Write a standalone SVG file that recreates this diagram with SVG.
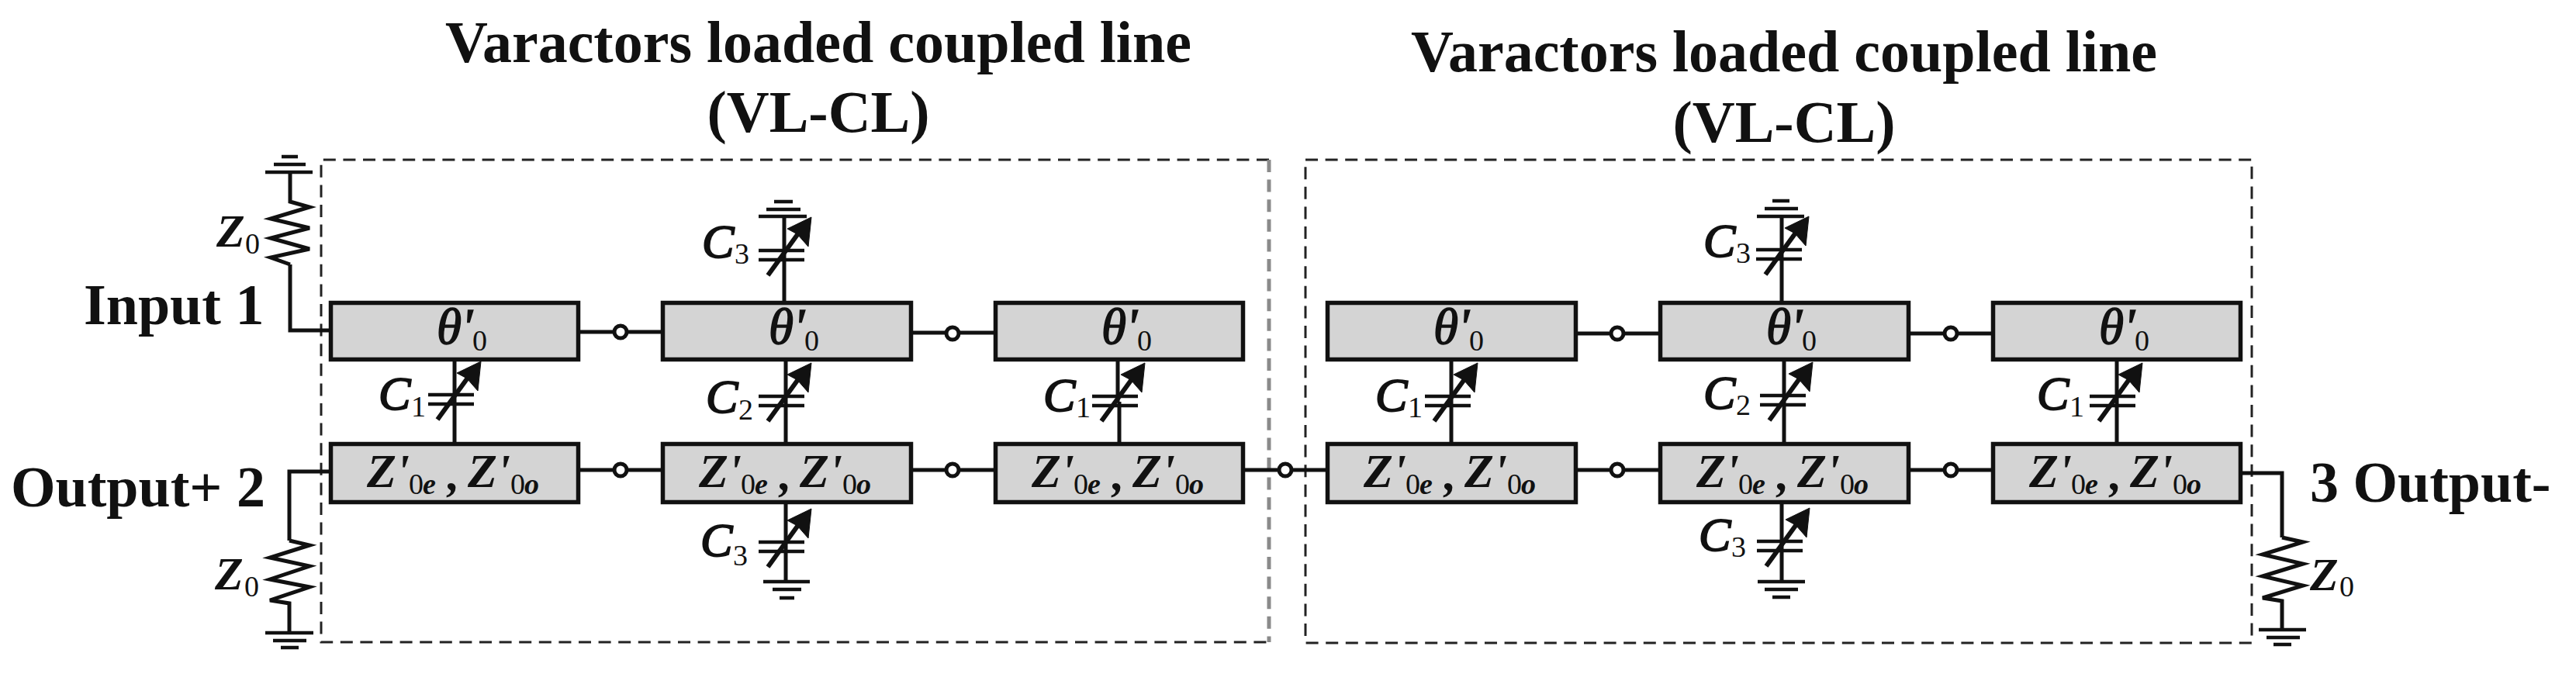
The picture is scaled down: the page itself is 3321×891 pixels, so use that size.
<svg xmlns="http://www.w3.org/2000/svg" xmlns:xlink="http://www.w3.org/1999/xlink" width="3321" height="891" viewBox="0 0 3321 891">
<style>
text{font-family:"Liberation Serif","Times New Roman",serif;fill:#111}
.t{font-size:76px;font-weight:700;text-anchor:middle}
.p{font-size:74px;font-weight:700}
.c{font-size:62px;font-style:italic;font-weight:400;stroke:#111;stroke-width:2}
.cz{font-size:60px;font-style:italic;font-weight:700}
.z{font-size:62px;font-style:italic;font-weight:700}
.th{font-size:66px;font-style:italic;font-weight:400;stroke:#111;stroke-width:1.500}
.n{font-size:38px}
.e{font-size:38px;font-style:italic;font-weight:700}
.w{fill:none;stroke:#111;stroke-width:5}
.b{fill:#d4d4d4;stroke:#111;stroke-width:5.500}
.g{stroke:#111;stroke-width:4.500;fill:none}
.a{stroke:#111;stroke-width:6;fill:none}
.d{fill:none;stroke:#222;stroke-width:3;stroke-dasharray:16 9.600}
.dg{fill:none;stroke:#8a8a8a;stroke-width:5;stroke-dasharray:16 9.600}
.j{fill:#fff;stroke:#111;stroke-width:5}
</style>
<defs>
<g id="var"><path class="g" d="M-34 0H25M-34 12H25"/><path class="a" d="M-22 32L20 -26"/><path fill="#111" stroke="#111" stroke-width="1" d="M34 -43L3 -28L16 -21L30 -5Z"/></g>
</defs>
<rect width="3321" height="891" fill="#fff"/>
<g id="frames">
<path class="d" d="M1636 206H414V828H1636"/>
<path class="dg" d="M1636 206V828"/>
<rect class="d" x="1683" y="206" width="1220" height="623"/>
</g>
<g id="titles">
<text class="t" x="1055" y="80">Varactors loaded coupled line</text>
<text class="t" x="1055" y="170">(VL-CL)</text>
<text class="t" x="2300" y="92">Varactors loaded coupled line</text>
<text class="t" x="2300" y="183">(VL-CL)</text>
</g>
<g id="connectors">
<path class="w" d="M424 426H374V341M424 608H373V697M2890 610H2942V693"/>
<path class="w" d="M748 428H852M1176 429H1281M2033 430H2138M2462 430H2567M748 606H852M1176 606H1281M1604 606H1709M2033 606H2138M2462 606H2567"/>
<path class="w" d="M586 466V571M1011 279V388M1013 465V570M1013 650V750M1441 466V518M1443 518V571M1871 466V571M2297 279V388M2300 465V570M2297 650V750M2729 466V571"/>
<g class="j"><circle cx="800" cy="428" r="8"/><circle cx="1228" cy="430" r="8"/><circle cx="2085" cy="430" r="8"/><circle cx="2515" cy="430" r="8"/><circle cx="800" cy="606" r="8"/><circle cx="1228" cy="606" r="8"/><circle cx="1657" cy="606" r="8"/><circle cx="2085" cy="606" r="8"/><circle cx="2515" cy="606" r="8"/></g>
</g>
<g id="port1"><text class="p" x="108" y="418">Input 1</text></g>
<g id="port2"><text class="p" x="14" y="653">Output+ 2</text></g>
<g id="port3"><text class="p" x="2978" y="647">3 Output-</text></g>
<g id="r1"><path class="w" d="M374 222V260L399 267L349 282L399 294L349 307L399 321L349 332L374 341"/><path class="g" d="M342 222H403M353 212H394M363 202H384"/><text class="cz" x="279" y="318">Z</text><text class="n" x="316" y="327">0</text></g>
<g id="r2"><path class="w" d="M373 816V778L348 774L399 757L348 747L399 730L348 719L399 703L373 697"/><path class="g" d="M342 816H404M352 826H395M362 835H385"/><text class="cz" x="277" y="760">Z</text><text class="n" x="315" y="769">0</text></g>
<g id="r3"><path class="w" d="M2942 812V775L2917 771L2969 755L2917 743L2969 727L2917 715L2969 699L2942 693"/><path class="g" d="M2912 812H2973M2922 822H2965M2931 831H2954"/><text class="cz" x="2978" y="761">Z</text><text class="n" x="3016" y="769">0</text></g>
<g id="theta1"><rect class="b" x="426.500" y="390.500" width="319" height="73"/><text class="th" x="563" y="443" textLength="46" lengthAdjust="spacingAndGlyphs">θ'</text><text class="n" x="609" y="452">0</text></g>
<g id="theta2"><rect class="b" x="854.500" y="390.500" width="320" height="73"/><text class="th" x="991" y="443" textLength="46" lengthAdjust="spacingAndGlyphs">θ'</text><text class="n" x="1037" y="452">0</text></g>
<g id="theta3"><rect class="b" x="1283.500" y="390.500" width="319" height="73"/><text class="th" x="1420" y="443" textLength="46" lengthAdjust="spacingAndGlyphs">θ'</text><text class="n" x="1466" y="452">0</text></g>
<g id="theta4"><rect class="b" x="1711.500" y="390.500" width="320" height="73"/><text class="th" x="1848" y="443" textLength="46" lengthAdjust="spacingAndGlyphs">θ'</text><text class="n" x="1894" y="452">0</text></g>
<g id="theta5"><rect class="b" x="2140.500" y="390.500" width="320" height="73"/><text class="th" x="2277" y="443" textLength="46" lengthAdjust="spacingAndGlyphs">θ'</text><text class="n" x="2323" y="452">0</text></g>
<g id="theta6"><rect class="b" x="2569.500" y="390.500" width="319" height="73"/><text class="th" x="2706" y="443" textLength="46" lengthAdjust="spacingAndGlyphs">θ'</text><text class="n" x="2752" y="452">0</text></g>
<g id="line1"><rect class="b" x="426.500" y="572.500" width="319" height="75"/><text class="z" x="473" y="628">Z'</text><text class="n" x="527" y="637">0</text><text class="e" x="545" y="637">e</text><text class="z" x="577" y="632">,</text><text class="z" x="603" y="628">Z'</text><text class="n" x="658" y="637">0</text><text class="e" x="676" y="637">o</text></g>
<g id="line2"><rect class="b" x="854.500" y="572.500" width="320" height="75"/><text class="z" x="901" y="628">Z'</text><text class="n" x="955" y="637">0</text><text class="e" x="973" y="637">e</text><text class="z" x="1005" y="632">,</text><text class="z" x="1031" y="628">Z'</text><text class="n" x="1086" y="637">0</text><text class="e" x="1104" y="637">o</text></g>
<g id="line3"><rect class="b" x="1283.500" y="572.500" width="319" height="75"/><text class="z" x="1330" y="628">Z'</text><text class="n" x="1384" y="637">0</text><text class="e" x="1402" y="637">e</text><text class="z" x="1434" y="632">,</text><text class="z" x="1460" y="628">Z'</text><text class="n" x="1515" y="637">0</text><text class="e" x="1533" y="637">o</text></g>
<g id="line4"><rect class="b" x="1711.500" y="572.500" width="320" height="75"/><text class="z" x="1758" y="628">Z'</text><text class="n" x="1812" y="637">0</text><text class="e" x="1830" y="637">e</text><text class="z" x="1862" y="632">,</text><text class="z" x="1888" y="628">Z'</text><text class="n" x="1943" y="637">0</text><text class="e" x="1961" y="637">o</text></g>
<g id="line5"><rect class="b" x="2140.500" y="572.500" width="320" height="75"/><text class="z" x="2187" y="628">Z'</text><text class="n" x="2241" y="637">0</text><text class="e" x="2259" y="637">e</text><text class="z" x="2291" y="632">,</text><text class="z" x="2317" y="628">Z'</text><text class="n" x="2372" y="637">0</text><text class="e" x="2390" y="637">o</text></g>
<g id="line6"><rect class="b" x="2569.500" y="572.500" width="319" height="75"/><text class="z" x="2616" y="628">Z'</text><text class="n" x="2670" y="637">0</text><text class="e" x="2688" y="637">e</text><text class="z" x="2720" y="632">,</text><text class="z" x="2746" y="628">Z'</text><text class="n" x="2801" y="637">0</text><text class="e" x="2819" y="637">o</text></g>
<g id="gnd-top"><path class="g" d="M978 279H1040M988 270H1032M998 260H1022"/><path class="g" d="M2265 279H2326M2275 269H2318M2285 259H2307"/></g>
<g id="gnd-bot"><path class="g" d="M984 750H1044M996 760H1033M1005 771H1024"/><path class="g" d="M2266 750H2327M2275 760H2318M2285 770H2308"/></g>
<g id="c1a"><use xlink:href="#var" href="#var" x="586" y="509"/><text class="c" x="488" y="528">C</text><text class="n" x="530" y="537">1</text></g>
<g id="c3a"><use xlink:href="#var" href="#var" x="1012" y="323"/><text class="c" x="905" y="332">C</text><text class="n" x="947" y="340">3</text></g>
<g id="c2a"><use xlink:href="#var" href="#var" x="1012" y="511"/><text class="c" x="910" y="532">C</text><text class="n" x="952" y="541">2</text></g>
<g id="c3b"><use xlink:href="#var" href="#var" x="1012" y="699"/><text class="c" x="903" y="717">C</text><text class="n" x="945" y="729">3</text></g>
<g id="c1b"><use xlink:href="#var" href="#var" x="1442" y="511"/><text class="c" x="1345" y="530">C</text><text class="n" x="1387" y="538">1</text></g>
<g id="c1c"><use xlink:href="#var" href="#var" x="1871" y="511"/><text class="c" x="1773" y="530">C</text><text class="n" x="1815" y="538">1</text></g>
<g id="c3c"><use xlink:href="#var" href="#var" x="2298" y="322"/><text class="c" x="2196" y="331">C</text><text class="n" x="2238" y="339">3</text></g>
<g id="c2b"><use xlink:href="#var" href="#var" x="2303" y="510"/><text class="c" x="2196" y="527">C</text><text class="n" x="2238" y="535">2</text></g>
<g id="c3d"><use xlink:href="#var" href="#var" x="2299" y="698"/><text class="c" x="2190" y="710">C</text><text class="n" x="2232" y="718">3</text></g>
<g id="c1d"><use xlink:href="#var" href="#var" x="2728" y="511"/><text class="c" x="2626" y="528">C</text><text class="n" x="2668" y="537">1</text></g>
</svg>
